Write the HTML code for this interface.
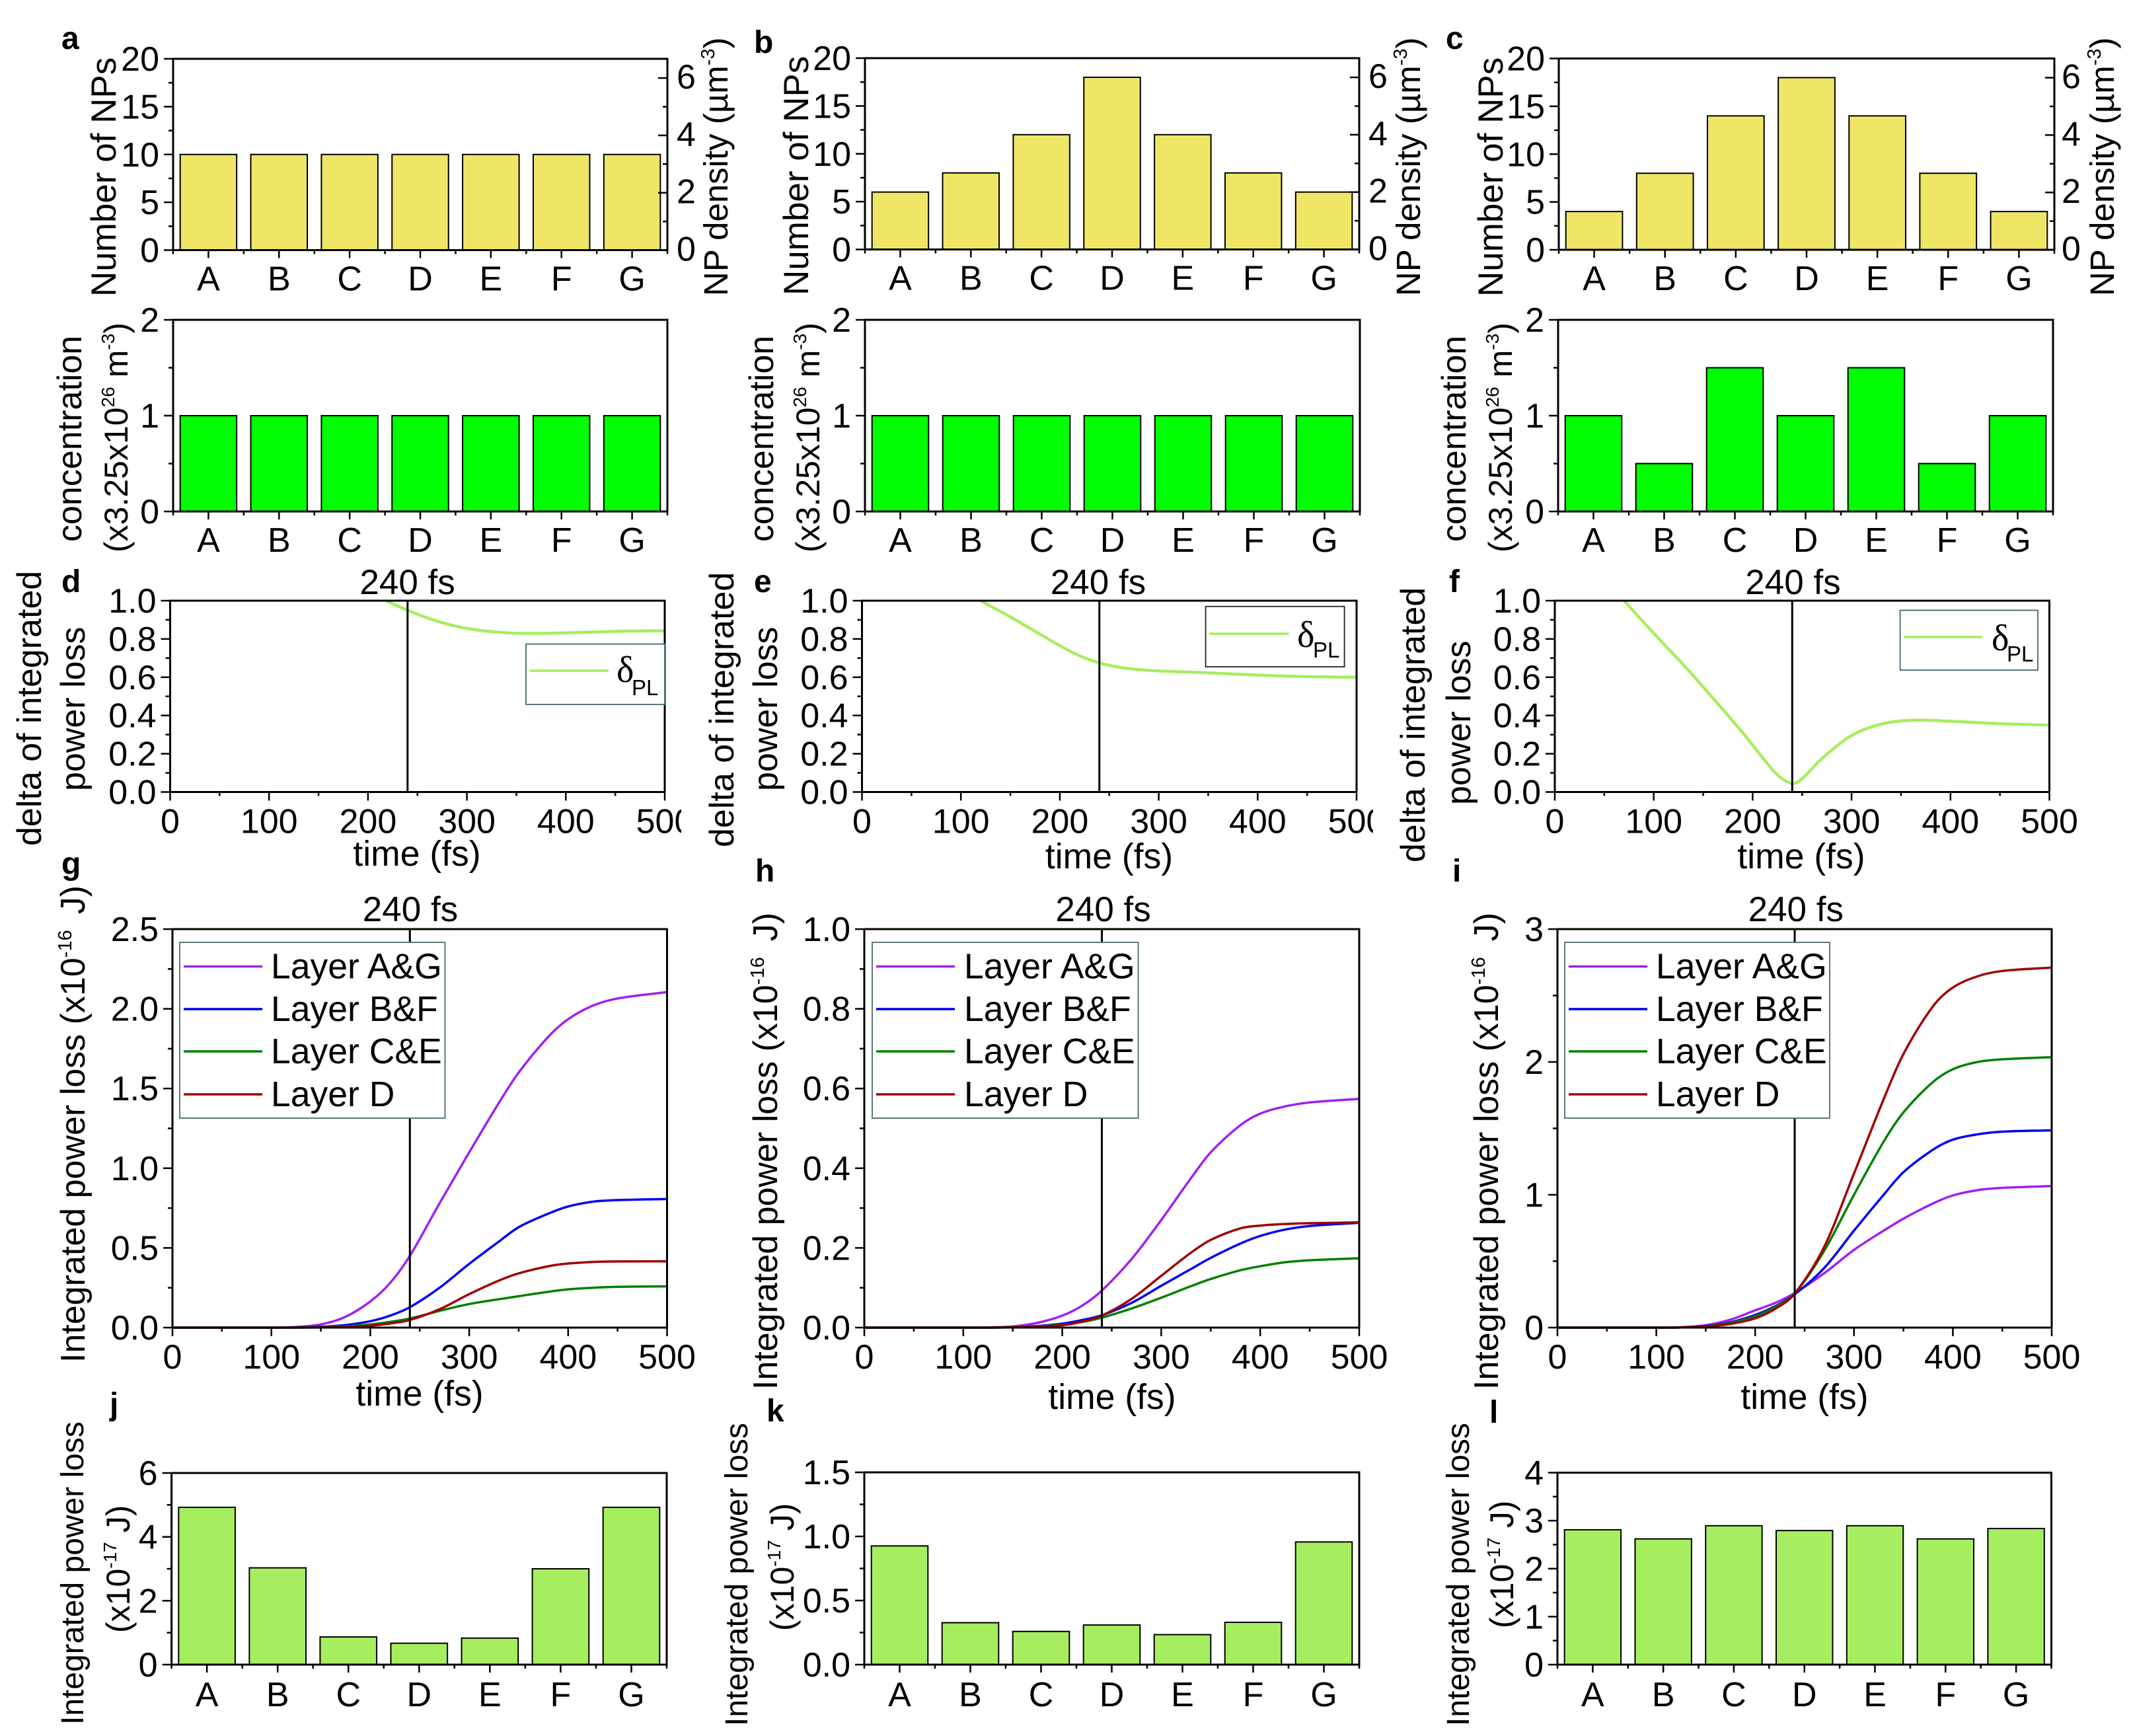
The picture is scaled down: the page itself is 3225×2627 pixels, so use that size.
<!DOCTYPE html>
<html lang="en">
<head>
<meta charset="utf-8">
<title>Nanoparticle layer distribution and integrated power loss</title>
<style>
html,body{margin:0;padding:0;background:#fff}
svg{display:block}
text{font-family:"Liberation Sans",sans-serif;fill:#000}
</style>
</head>
<body>
<svg id="figure" xmlns="http://www.w3.org/2000/svg" width="3225" height="2627" viewBox="0 0 3225 2627"></svg>
<script>
const categories = ['A','B','C','D','E','F','G'];
const npCountA = [10,10,10,10,10,10,10];
const npCountB = [6,8,12,18,12,8,6];
const npCountC = [4,8,14,18,14,8,4];
const concentrationA = [1,1,1,1,1,1,1];
const concentrationB = [1,1,1,1,1,1,1];
const concentrationC = [1,0.5,1.5,1,1.5,0.5,1];
const layerLossJ = [4.925,3.03,0.867,0.67,0.83,3.0,4.925];
const layerLossK = [0.926,0.327,0.259,0.309,0.234,0.33,0.957];
const layerLossL = [2.81,2.62,2.894,2.794,2.894,2.62,2.836];

const deltaTimesD = [218,240,260,280,300,330,360,400,450,500];
const deltaValuesD = [1,0.95,0.91,0.878,0.855,0.836,0.829,0.832,0.84,0.843];
const deltaTimesE = [120,150,180,200,220,240,260,280,300,350,400,450,500];
const deltaValuesE = [1,0.915,0.825,0.765,0.712,0.675,0.652,0.64,0.633,0.623,0.611,0.603,0.6];
const deltaTimesF = [70,100,130,160,190,210,225,240,250,270,300,330,360,400,450,500];
const deltaValuesF = [1,0.83,0.665,0.49,0.31,0.18,0.09,0.044,0.07,0.175,0.295,0.355,0.375,0.37,0.357,0.35];

const layerTimes = [0,100,125,150,175,200,220,240,270,300,330,350,380,400,425,450,500];
const layerNames = ['Layer A&G','Layer B&F','Layer C&E','Layer D'];
const gLayerAG = [0,0,0.004,0.02,0.068,0.164,0.28,0.45,0.78,1.10,1.41,1.60,1.825,1.935,2.02,2.065,2.105];
const gLayerBF = [0,0,0.001,0.005,0.016,0.04,0.075,0.128,0.25,0.40,0.54,0.63,0.715,0.76,0.79,0.80,0.807];
const gLayerCE = [0,0,0,0.002,0.008,0.02,0.036,0.057,0.105,0.148,0.178,0.197,0.225,0.24,0.25,0.256,0.259];
const gLayerD = [0,0,0,0.001,0.004,0.012,0.026,0.048,0.115,0.21,0.295,0.34,0.385,0.402,0.412,0.415,0.416];
const hLayerAG = [0,0,0.0005,0.003,0.012,0.03,0.055,0.093,0.172,0.27,0.375,0.44,0.508,0.537,0.555,0.565,0.574];
const hLayerBF = [0,0,0,0.001,0.004,0.01,0.019,0.031,0.062,0.105,0.147,0.175,0.211,0.23,0.246,0.255,0.263];
const hLayerCE = [0,0,0,0.001,0.003,0.007,0.014,0.025,0.048,0.075,0.104,0.122,0.144,0.154,0.164,0.169,0.174];
const hLayerD = [0,0,0,0.0005,0.002,0.006,0.015,0.03,0.072,0.13,0.188,0.22,0.249,0.256,0.26,0.262,0.264];
const iLayerAG = [0,0,0.003,0.018,0.06,0.13,0.185,0.26,0.41,0.585,0.73,0.82,0.935,0.995,1.035,1.052,1.066];
const iLayerBF = [0,0,0.002,0.012,0.04,0.095,0.16,0.25,0.45,0.73,1.0,1.17,1.34,1.415,1.455,1.475,1.485];
const iLayerCE = [0,0,0.001,0.01,0.035,0.085,0.155,0.256,0.58,1.0,1.40,1.62,1.85,1.945,2.0,2.02,2.036];
const iLayerD = [0,0,0.001,0.008,0.028,0.07,0.14,0.256,0.61,1.16,1.72,2.06,2.42,2.56,2.645,2.685,2.71];
const timeTicks = [0,50,100,150,200,250,300,350,400,450,500];

const SVGNS = 'http://www.w3.org/2000/svg';
const root = document.getElementById('figure');
const layerColors = ['#a01ff5','#0000f5','#008000','#a00000'];
const deltaColor = '#a6ee5f';

function mk(parent, tag, name, attrs, content) {
  const e = document.createElementNS(SVGNS, tag);
  
  
  for (const k in attrs) e.setAttribute(k, attrs[k]);
  if (content !== undefined) e.textContent = content;
  parent.appendChild(e);
  return e;
}
function line(p, name, x1, y1, x2, y2, w, c) {
  return mk(p, 'line', name, {x1, y1, x2, y2, stroke: c || '#000', 'stroke-width': w || 3});
}
function label(p, name, x, y, str, anchor, size, weight) {
  return mk(p, 'text', name, {x, y, 'text-anchor': anchor || 'middle', 'font-size': size || 52, 'font-weight': weight || 'normal'}, str);
}
/* segments: plain string, or {sup:'-3'}, or {gap:px} applied to following text */
function vtitle(p, name, x, y, segments, size) {
  const fs = size || 52;
  const t = mk(p, 'text', name, {x, y, transform: 'rotate(-90 ' + x + ' ' + y + ')', 'font-size': fs});
  let lift = 0, gap = 0;
  segments.forEach(function (s) {
    const sp = document.createElementNS(SVGNS, 'tspan');
    if (typeof s === 'string') {
      sp.textContent = s;
      sp.setAttribute('dy', lift);
      lift = 0;
      if (gap) { sp.setAttribute('dx', gap); gap = 0; }
      t.appendChild(sp);
    } else if (s.sup) {
      sp.textContent = s.sup;
      sp.setAttribute('dy', -20);
      sp.setAttribute('font-size', Math.round(fs * 0.56));
      lift = 20;
      t.appendChild(sp);
    } else if (s.gap) {
      gap = s.gap;
    }
  });
  return t;
}
/* Smooth cubic through the read points, using central-difference tangents */
function smoothPath(pts) {
  const n = pts.length, tan = [];
  for (let i = 0; i < n; i++) {
    const a = pts[Math.max(i - 1, 0)], b = pts[Math.min(i + 1, n - 1)];
    tan[i] = (b[1] - a[1]) / (b[0] - a[0]);
  }
  let d = 'M' + pts[0][0].toFixed(2) + ' ' + pts[0][1].toFixed(2);
  for (let i = 0; i < n - 1; i++) {
    const h = (pts[i + 1][0] - pts[i][0]) / 3;
    d += 'C' + (pts[i][0] + h).toFixed(2) + ' ' + (pts[i][1] + tan[i] * h).toFixed(2) + ' ' +
      (pts[i + 1][0] - h).toFixed(2) + ' ' + (pts[i + 1][1] - tan[i + 1] * h).toFixed(2) + ' ' +
      pts[i + 1][0].toFixed(2) + ' ' + pts[i + 1][1].toFixed(2);
  }
  return d;
}
function frame(g, c) {
  mk(g, 'rect', 'plot-frame', {x: c.L, y: c.T, width: c.R - c.L, height: c.B - c.T, fill: 'none', stroke: '#000', 'stroke-width': 3});
}
function yAxis(g, c, ymap) {
  const r = Math.round(c.major / c.minor), n = Math.round(c.ymax / c.minor);
  for (let k = 0; k <= n; k++) {
    const y = ymap(k * c.minor), isMajor = k % r === 0;
    line(g, isMajor ? 'y-major-tick' : 'y-minor-tick', c.L - (isMajor ? 14 : 7), y, c.L, y, 2.5);
    if (isMajor) label(g, 'y-tick-label', c.L - 21, y + 18, (k * c.minor).toFixed(c.dec), 'end');
  }
}
function barPanel(c) {
  const g = mk(root, 'g', c.name, {});
  const step = (c.R - c.L) / categories.length;
  const xmap = function (i) { return c.L + step * (i + 0.5); };
  const ymap = function (v) { return c.B - (c.B - c.T) * v / c.ymax; };
  c.values.forEach(function (v, i) {
    const w = step * 0.8;
    mk(g, 'rect', 'bar-' + categories[i].toLowerCase(), {x: xmap(i) - w / 2, y: ymap(v), width: w, height: c.B - ymap(v), fill: c.fill, stroke: '#000', 'stroke-width': 2});
  });
  frame(g, c);
  yAxis(g, c, ymap);
  for (let i = 0; i <= categories.length; i++) {
    line(g, 'x-minor-tick', c.L + step * i, c.B, c.L + step * i, c.B + 6, 2.5);
  }
  categories.forEach(function (cat, i) {
    line(g, 'x-major-tick', xmap(i), c.B, xmap(i), c.B + 12, 2.5);
    label(g, 'x-tick-label', xmap(i), c.B + (c.labelGap || 61), cat);
  });
  if (c.rightAxis) {
    const rmax = 6.67, rmap = function (v) { return c.B - (c.B - c.T) * v / rmax; };
    for (let v = 0; v <= 6; v++) {
      const isMajor = v % 2 === 0;
      line(g, isMajor ? 'right-major-tick' : 'right-minor-tick', c.R - (isMajor ? 14 : 7), rmap(v), c.R, rmap(v), 2.5);
      if (isMajor) label(g, 'right-tick-label', c.R + c.rightLabelGap, rmap(v) + 16, String(v), 'start');
    }
  }
  return g;
}
function timePanel(c) {
  const g = mk(root, 'g', c.name, {});
  const xmap = function (t) { return c.L + (c.R - c.L) * t / 500; };
  const ymap = function (v) { return c.B - (c.B - c.T) * v / c.ymax; };
  c.series.forEach(function (s) {
    const pts = s.times.map(function (t, i) { return [xmap(t), ymap(s.values[i])]; });
    mk(g, 'path', s.name, {d: smoothPath(pts), fill: 'none', stroke: s.color, 'stroke-width': s.width});
  });
  line(g, 'marker-240-fs', xmap(240), c.T, xmap(240), c.B, 3);
  frame(g, c);
  yAxis(g, c, ymap);
  timeTicks.forEach(function (t) {
    const isMajor = t % 100 === 0;
    line(g, isMajor ? 'x-major-tick' : 'x-minor-tick', xmap(t), c.B, xmap(t), c.B + (isMajor ? 13 : 6), 2.5);
    if (isMajor) label(g, 'x-tick-label', xmap(t), c.B + 62, String(t));
  });
  if (c.cropX) {
    mk(g, 'rect', 'tick-label-crop', {x: c.cropX, y: c.B + 15, width: 40, height: 52, fill: '#fff'});
  }
  label(g, 'marker-title', c.titleX, c.titleY, '240 fs', 'middle', 53);
  label(g, 'x-axis-title', c.xTitleX, c.xTitleY, 'time (fs)', 'middle', 53.5);
  return g;
}
function deltaLegend(g, b) {
  const lg = mk(g, 'g', 'legend', {});
  mk(lg, 'rect', 'legend-box', {x: b.x, y: b.y, width: b.w, height: b.h, fill: '#fff', stroke: b.stroke, 'stroke-width': 1.8});
  line(lg, 'legend-line-delta', b.lx, b.ly, b.lx2, b.ly, 3.5, deltaColor);
  const d = label(lg, 'legend-symbol-delta', b.sx, b.sy, 'δ', 'start', 56);
  d.style.fontFamily = '"Liberation Serif",serif';
  label(lg, 'legend-subscript-pl', b.px, b.py, 'PL', 'start', 33);
}
function layerLegend(g, b) {
  const lg = mk(g, 'g', 'legend', {});
  mk(lg, 'rect', 'legend-box', {x: b.x, y: 1426, width: b.w, height: 266, fill: '#fff', stroke: '#4a6a70', 'stroke-width': 1.8});
  const ly = [1462.5, 1527, 1591, 1656];
  layerNames.forEach(function (n, i) {
    const key = n.toLowerCase().replace(/[^a-z]+/g, '-');
    line(lg, 'legend-line-' + key, b.lx, ly[i], b.lx2, ly[i], 3.5, layerColors[i]);
    label(lg, 'legend-entry-' + key, b.tx, ly[i] + 18, n, 'start', 53.5);
  });
}
function layerSeries(vals) {
  return vals.map(function (v, i) {
    return {name: 'curve-' + layerNames[i].toLowerCase().replace(/[^a-z]+/g, '-'), times: layerTimes, values: v, color: layerColors[i], width: 3.5};
  });
}
function deltaSeries(times, values) {
  return [{name: 'curve-delta-pl', times: times, values: values, color: deltaColor, width: 4.5}];
}

/* Top row */
const yellow = '#efe666', bright = '#00ff00', lime = '#a6ee5f';
const countCfg = {ymax: 20, major: 5, minor: 2.5, dec: 0, fill: yellow, rightAxis: true};
barPanel(Object.assign({name: 'panel-a-np-count', L: 262, R: 1010, T: 89, B: 378.5, values: npCountA, rightLabelGap: 14}, countCfg));
barPanel(Object.assign({name: 'panel-b-np-count', L: 1309, R: 2057, T: 88, B: 377.5, values: npCountB, rightLabelGap: 14}, countCfg));
barPanel(Object.assign({name: 'panel-c-np-count', L: 2359, R: 3109, T: 88.5, B: 378, values: npCountC, rightLabelGap: 11}, countCfg));

const concCfg = {T: 484, B: 774, ymax: 2, major: 1, minor: 0.5, dec: 0, fill: bright};
barPanel(Object.assign({name: 'panel-a-concentration', L: 262, R: 1010, values: concentrationA}, concCfg));
barPanel(Object.assign({name: 'panel-b-concentration', L: 1309, R: 2058, values: concentrationB}, concCfg));
barPanel(Object.assign({name: 'panel-c-concentration', L: 2358, R: 3107, values: concentrationC}, concCfg));

/* Delta row */
const deltaCfg = {T: 909, B: 1198.5, ymax: 1, major: 0.2, minor: 0.1, dec: 1};
const panelD = timePanel(Object.assign({name: 'panel-d-delta', L: 257.5, R: 1006, cropX: 1031, titleX: 616.6, titleY: 899, xTitleX: 631, xTitleY: 1310, series: deltaSeries(deltaTimesD, deltaValuesD)}, deltaCfg));
const panelE = timePanel(Object.assign({name: 'panel-e-delta', L: 1304.5, R: 2053, cropX: 2078, titleX: 1662, titleY: 899, xTitleX: 1678.5, xTitleY: 1314, series: deltaSeries(deltaTimesE, deltaValuesE)}, deltaCfg));
const panelF = timePanel(Object.assign({name: 'panel-f-delta', L: 2353, R: 3101.5, titleX: 2713.5, titleY: 899, xTitleX: 2726, xTitleY: 1314, series: deltaSeries(deltaTimesF, deltaValuesF)}, deltaCfg));
deltaLegend(panelD, {x: 796, y: 974.6, w: 210, h: 91.4, stroke: '#3f6a70', lx: 802, lx2: 921, ly: 1015, sx: 933, sy: 1032, px: 956, py: 1052});
deltaLegend(panelE, {x: 1824.6, y: 917.7, w: 210, h: 91.3, stroke: '#222', lx: 1830, lx2: 1950.6, ly: 959, sx: 1963, sy: 979, px: 1987, py: 995});
deltaLegend(panelF, {x: 2875.6, y: 923.5, w: 208.4, h: 90.5, stroke: '#3f6a70', lx: 2881, lx2: 3000, ly: 964, sx: 3014, sy: 984, px: 3037, py: 1001});

/* Layer curves row */
const panelG = timePanel({name: 'panel-g-integrated-loss', L: 261, R: 1009.5, T: 1406, B: 2009, ymax: 2.5, major: 0.5, minor: 0.25, dec: 1, titleX: 621, titleY: 1394, xTitleX: 635, xTitleY: 2127, series: layerSeries([gLayerAG, gLayerBF, gLayerCE, gLayerD])});
const panelH = timePanel({name: 'panel-h-integrated-loss', L: 1308, R: 2057, T: 1406, B: 2009, ymax: 1, major: 0.2, minor: 0.1, dec: 1, titleX: 1669.6, titleY: 1394, xTitleX: 1683, xTitleY: 2132, series: layerSeries([hLayerAG, hLayerBF, hLayerCE, hLayerD])});
const panelI = timePanel({name: 'panel-i-integrated-loss', L: 2357, R: 3105, T: 1406, B: 2009, ymax: 3, major: 1, minor: 0.5, dec: 0, titleX: 2717.8, titleY: 1394, xTitleX: 2731, xTitleY: 2132, series: layerSeries([iLayerAG, iLayerBF, iLayerCE, iLayerD])});
layerLegend(panelG, {x: 272, w: 401.5, lx: 278, lx2: 397, tx: 410});
layerLegend(panelH, {x: 1320, w: 402.6, lx: 1326, lx2: 1445, tx: 1459});
layerLegend(panelI, {x: 2368, w: 401, lx: 2374, lx2: 2493, tx: 2506});

/* Bottom row */
barPanel({name: 'panel-j-layer-loss', L: 259.6, R: 1009, T: 2229, B: 2519, ymax: 6, major: 2, minor: 1, dec: 0, fill: lime, values: layerLossJ, labelGap: 63});
barPanel({name: 'panel-k-layer-loss', L: 1308, R: 2057, T: 2228, B: 2519, ymax: 1.5, major: 0.5, minor: 0.25, dec: 1, fill: lime, values: layerLossK, labelGap: 63});
barPanel({name: 'panel-l-layer-loss', L: 2357, R: 3104.5, T: 2228.5, B: 2519, ymax: 4, major: 1, minor: 0.5, dec: 0, fill: lime, values: layerLossL, labelGap: 63});

/* Axis titles */
const density = ['NP density (µm', {sup: '-3'}, ')'];
vtitle(root, 'y-axis-title-a-count', 175, 449, ['Number of NPs'], 53);
vtitle(root, 'y-axis-title-b-count', 1223, 447, ['Number of NPs'], 53);
vtitle(root, 'y-axis-title-c-count', 2274, 449, ['Number of NPs'], 53);
vtitle(root, 'right-axis-title-a', 1101, 448, density, 51);
vtitle(root, 'right-axis-title-b', 2149, 448, density, 51);
vtitle(root, 'right-axis-title-c', 3199, 448, density, 51);

const concLine = ['(x3.25x10', {sup: '26'}, {gap: 14}, 'm', {sup: '-3'}, ')'];
vtitle(root, 'y-axis-title-a-concentration', 123, 820, ['concentration']);
vtitle(root, 'y-axis-title-a-concentration-unit', 193, 836, concLine, 50);
vtitle(root, 'y-axis-title-b-concentration', 1170, 820, ['concentration']);
vtitle(root, 'y-axis-title-b-concentration-unit', 1240, 836, concLine, 50);
vtitle(root, 'y-axis-title-c-concentration', 2218, 820, ['concentration']);
vtitle(root, 'y-axis-title-c-concentration-unit', 2288, 836, concLine, 50);

vtitle(root, 'y-axis-title-d-line1', 62, 1280, ['delta of integrated']);
vtitle(root, 'y-axis-title-d-line2', 128, 1197, ['power loss']);
vtitle(root, 'y-axis-title-e-line1', 1110, 1282, ['delta of integrated']);
vtitle(root, 'y-axis-title-e-line2', 1176, 1197, ['power loss']);
vtitle(root, 'y-axis-title-f-line1', 2156, 1305, ['delta of integrated']);
vtitle(root, 'y-axis-title-f-line2', 2225, 1218, ['power loss']);

const lossLine = ['Integrated power loss (x10', {sup: '-16'}, {gap: 24}, 'J)'];
vtitle(root, 'y-axis-title-g', 128, 2062, lossLine);
vtitle(root, 'y-axis-title-h', 1176, 2103, lossLine);
vtitle(root, 'y-axis-title-i', 2267, 2103, lossLine);

const lossUnit = ['(x10', {sup: '-17'}, {gap: 14}, 'J)'];
vtitle(root, 'y-axis-title-j-line1', 126, 2610, ['Integrated power loss'], 48);
vtitle(root, 'y-axis-title-j-line2', 196, 2471, lossUnit, 50);
vtitle(root, 'y-axis-title-k-line1', 1131, 2612, ['Integrated power loss'], 48);
vtitle(root, 'y-axis-title-k-line2', 1201, 2468, lossUnit, 50);
vtitle(root, 'y-axis-title-l-line1', 2223, 2612, ['Integrated power loss'], 48);
vtitle(root, 'y-axis-title-l-line2', 2290, 2464, lossUnit, 50);

/* Panel letters */
label(root, 'panel-letter-a', 93, 74, 'a', 'start', 48, 'bold');
label(root, 'panel-letter-b', 1141, 80, 'b', 'start', 48, 'bold');
label(root, 'panel-letter-c', 2188, 74, 'c', 'start', 48, 'bold');
label(root, 'panel-letter-d', 93, 896, 'd', 'start', 48, 'bold');
label(root, 'panel-letter-e', 1141, 896, 'e', 'start', 48, 'bold');
label(root, 'panel-letter-f', 2193, 896, 'f', 'start', 48, 'bold');
label(root, 'panel-letter-g', 93, 1323, 'g', 'start', 48, 'bold');
label(root, 'panel-letter-h', 1143, 1334, 'h', 'start', 48, 'bold');
label(root, 'panel-letter-i', 2198, 1334, 'i', 'start', 48, 'bold');
label(root, 'panel-letter-j', 166, 2141, 'j', 'start', 48, 'bold');
label(root, 'panel-letter-k', 1160, 2151, 'k', 'start', 48, 'bold');
label(root, 'panel-letter-l', 2254, 2153, 'l', 'start', 48, 'bold');
</script>
</body>
</html>
